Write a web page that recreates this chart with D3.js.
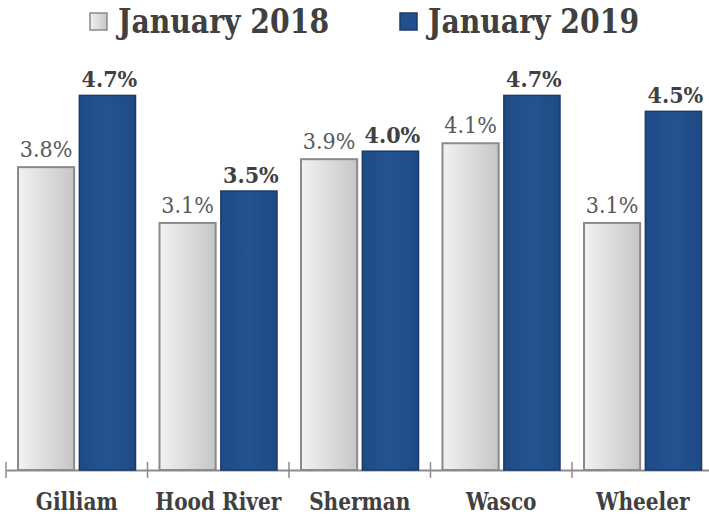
<!DOCTYPE html>
<html>
<head>
<meta charset="utf-8">
<script src="https://cdn.jsdelivr.net/npm/d3@7"></script>
<style>
  body { margin: 0; background: #fff; }
  svg { display: block; }
</style>
</head>
<body>
<svg id="chart" width="709" height="517"></svg>
<script>
(function() {
    var width = 709, height = 517

    // data
    const counties = ["Gilliam", "Hood River", "Sherman", "Wasco", "Wheeler"]
    const jan2018 = [3.8, 3.1, 3.9, 4.1, 3.1]
    const jan2019 = [4.7, 3.5, 4.0, 4.7, 4.5]
    const seriesNames = ["January 2018", "January 2019"]

    const data = counties.map((c, i) => ({ county: c, v18: jan2018[i], v19: jan2019[i] }))

    const svg = d3.select("#chart")

    // gradients for the bars
    const defs = svg.append("defs")
    const gGray = defs.append("linearGradient").attr("id", "gray").attr("x1", "0").attr("x2", "1").attr("y1", "0").attr("y2", "0")
    gGray.append("stop").attr("offset", "0%").attr("stop-color", "#f2f2f2")
    gGray.append("stop").attr("offset", "100%").attr("stop-color", "#c6c6c6")
    const gBlue = defs.append("linearGradient").attr("id", "blue").attr("x1", "0").attr("x2", "1").attr("y1", "0").attr("y2", "0")
    gBlue.append("stop").attr("offset", "0%").attr("stop-color", "#1f4b86")
    gBlue.append("stop").attr("offset", "50%").attr("stop-color", "#245392")
    gBlue.append("stop").attr("offset", "100%").attr("stop-color", "#1f4a84")

    // scales
    var x = d3.scaleBand()
        .domain(counties)
        .range([6, 713.5])
        .paddingInner(0)
        .paddingOuter(0)

    var inner = d3.scaleBand()
        .domain(["v18", "v19"])
        .range([12, x.bandwidth() - 12])
        .paddingInner(0.085)

    var y = d3.scaleLinear()
        .domain([0, 5])
        .range([470, 71.5])

    // axis
    const axis = svg.append("g")
        .attr("transform", "translate(0,470)")
        .call(d3.axisBottom(x).tickSize(0).tickFormat(""))
    axis.select(".domain").attr("stroke", "#8c8c8c").attr("stroke-width", 2)
    // tick separators between categories
    axis.selectAll(".sep")
        .data(counties)
        .enter()
        .append("line")
        .attr("class", "sep")
        .attr("x1", (d) => x(d)).attr("x2", (d) => x(d))
        .attr("y1", -8).attr("y2", 8)
        .attr("stroke", "#8c8c8c")
        .attr("stroke-width", 1.5)

    // bars
    const groups = svg.append("g")
        .selectAll("g")
        .data(data)
        .enter()
        .append("g")
        .attr("transform", (d) => `translate(${x(d.county)},0)`)

    groups.append("rect")
        .attr("x", inner("v18"))
        .attr("y", (d) => y(d.v18))
        .attr("width", inner.bandwidth())
        .attr("height", (d) => y(0) - y(d.v18))
        .attr("fill", "url(#gray)")
        .attr("stroke", "#8a8a8a")
        .attr("stroke-width", 2)

    groups.append("rect")
        .attr("x", inner("v19"))
        .attr("y", (d) => y(d.v19))
        .attr("width", inner.bandwidth())
        .attr("height", (d) => y(0) - y(d.v19))
        .attr("fill", "url(#blue)")
        .attr("stroke", "#1a3b68")
        .attr("stroke-width", 1.5)

    // value labels
    groups.append("text")
        .attr("x", inner("v18") + inner.bandwidth() / 2)
        .attr("y", (d) => y(d.v18) - 10)
        .attr("text-anchor", "middle")
        .style("font-family", "DejaVu Serif Condensed")
        .style("font-size", "23px")
        .style("fill", "#595959")
        .text((d) => d.v18.toFixed(1) + "%")

    groups.append("text")
        .attr("x", inner("v19") + inner.bandwidth() / 2 + 2)
        .attr("y", (d) => y(d.v19) - 8)
        .attr("text-anchor", "middle")
        .style("font-family", "DejaVu Serif Condensed")
        .style("font-weight", "bold")
        .style("font-size", "23px")
        .style("fill", "#404040")
        .text((d) => d.v19.toFixed(1) + "%")

    // category labels
    svg.append("g")
        .selectAll("text")
        .data(counties)
        .enter()
        .append("text")
        .attr("transform", (d) => `translate(${x(d) + x.bandwidth() / 2},510) scale(0.93,1)`)
        .attr("text-anchor", "middle")
        .style("font-family", "DejaVu Serif Condensed")
        .style("font-weight", "bold")
        .style("font-size", "24px")
        .style("fill", "#404040")
        .text((d) => d)

    // legend
    const legend = svg.append("g")
    const legendX = [90, 400]
    const legendFill = ["url(#gray)", "#22508e"]
    const legendStroke = ["#8a8a8a", "#1a3b68"]
    seriesNames.forEach((name, i) => {
        legend.append("rect")
            .attr("x", legendX[i]).attr("y", 13)
            .attr("width", 17).attr("height", 17)
            .attr("fill", legendFill[i])
            .attr("stroke", legendStroke[i])
            .attr("stroke-width", 1.5)
        legend.append("text")
            .attr("transform", `translate(${legendX[i] + 28},33) scale(0.925,1)`)
            .style("font-family", "DejaVu Serif Condensed")
            .style("font-weight", "bold")
            .style("font-size", "34px")
            .style("fill", "#404040")
            .text(name)
    })
})();
</script>
</body>
</html>
